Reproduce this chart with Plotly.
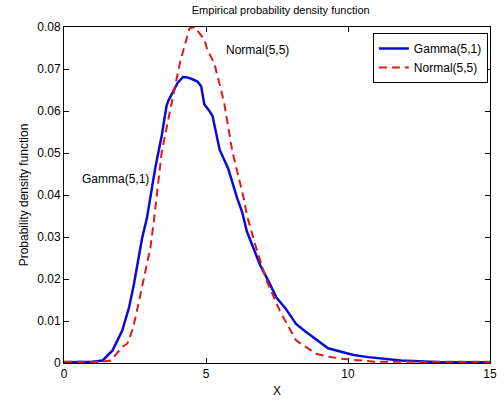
import plotly.graph_objects as go

# Data
gamma_x = [0, 0.5, 1.0, 1.36, 1.71, 2.05, 2.29, 2.46, 2.75, 2.92, 3.04, 3.21, 3.44, 3.61, 3.67, 3.85,
           4.0, 4.19, 4.35, 4.54, 4.7, 4.83, 4.94, 5.1, 5.23, 5.48, 5.78, 6.1, 6.27, 6.44, 6.9,
           7.2, 7.48, 7.8, 8.17, 8.5, 8.87, 9.3, 9.79, 10.2, 10.71, 11.3, 11.87, 12.5, 13.26, 14, 15]
gamma_y = [0.0002, 0.0002, 0.0003, 0.0006, 0.003, 0.0077, 0.0132, 0.0187, 0.0297, 0.0345, 0.0392,
           0.0463, 0.0541, 0.0612, 0.0624, 0.0647, 0.0667, 0.0681, 0.068, 0.0675, 0.067, 0.0659,
           0.0616, 0.0602, 0.0588, 0.0508, 0.0463, 0.0392, 0.036, 0.0313, 0.0234, 0.0195, 0.0156,
           0.013, 0.0093, 0.0075, 0.0056, 0.0035, 0.0026, 0.0019, 0.0014, 0.001, 0.0006, 0.0004,
           0.0002, 0.0002, 0.0002]

normal_x = [0, 0.5, 1.0, 1.3, 1.65, 2.05, 2.23, 2.4, 2.52, 2.75, 3.04, 3.15, 3.27, 3.44, 3.84, 4.1,
            4.42, 4.6, 4.94, 5.05, 5.29, 5.64, 5.92, 6.33, 6.44, 6.73, 7.14, 7.6, 8.17, 8.87, 9.33,
            9.79, 10.95, 12, 13, 14, 15]
normal_y = [0.0003, 0.0003, 0.0003, 0.0003, 0.0006, 0.0038, 0.0046, 0.0077, 0.0109, 0.018, 0.0274,
            0.033, 0.040, 0.0502, 0.0636, 0.072, 0.0797, 0.080, 0.077, 0.0745, 0.0714, 0.062,
            0.0506, 0.0392, 0.0352, 0.0282, 0.0195, 0.0124, 0.0054, 0.0022, 0.0015, 0.001, 0.0003,
            0.0003, 0.0003, 0.0003, 0.0003]

x_ticks = [0, 5, 10, 15]
y_ticks = [0, 0.01, 0.02, 0.03, 0.04, 0.05, 0.06, 0.07, 0.08]
y_ticktext = ["0", "0.01", "0.02", "0.03", "0.04", "0.05", "0.06", "0.07", "0.08"]

FONT = "Liberation Sans, Arial, sans-serif"

fig = go.Figure()
fig.add_trace(go.Scatter(x=gamma_x, y=gamma_y, mode="lines", name="Gamma(5,1)",
                         line=dict(color="#0c0cd0", width=2.5)))
fig.add_trace(go.Scatter(x=normal_x, y=normal_y, mode="lines", name="Normal(5,5)",
                         line=dict(color="#e01818", width=2, dash="8px,5px")))

fig.add_annotation(x=5.63, y=0.0746, text="Normal(5,5)", showarrow=False, xanchor="left",
                   font=dict(family=FONT, size=12, color="black"))
fig.add_annotation(x=0.55, y=0.0439, text="Gamma(5,1)", showarrow=False, xanchor="left",
                   font=dict(family=FONT, size=12, color="black"))

axis_common = dict(showline=True, linecolor="black", linewidth=1, mirror="ticks",
                   ticks="inside", ticklen=5, tickcolor="black", showgrid=False,
                   zeroline=False, tickfont=dict(family=FONT, size=12, color="black"))

fig.update_layout(
    width=504, height=403,
    margin=dict(l=64, r=7, t=27, b=37),
    paper_bgcolor="white", plot_bgcolor="white",
    title=dict(text="Empirical probability density function", x=0.557, xanchor="center",
               y=1 - 10 / 403, yanchor="middle", yref="container",
               font=dict(family=FONT, size=11, color="black")),
    xaxis=dict(range=[0, 15], tickvals=x_ticks,
               title=dict(text="X", standoff=6, font=dict(family=FONT, size=12, color="black")),
               **axis_common),
    yaxis=dict(range=[0, 0.08], tickvals=y_ticks, ticktext=y_ticktext,
               title=dict(text="Probability density function", standoff=6,
                          font=dict(family=FONT, size=12, color="black")),
               **axis_common),
    legend=dict(x=0.995, y=0.982, xanchor="right", yanchor="top",
                bordercolor="black", borderwidth=1, bgcolor="white",
                font=dict(family=FONT, size=12, color="black"),
                tracegroupgap=0, itemwidth=30),
    showlegend=True,
)

fig.write_html("out.html")
